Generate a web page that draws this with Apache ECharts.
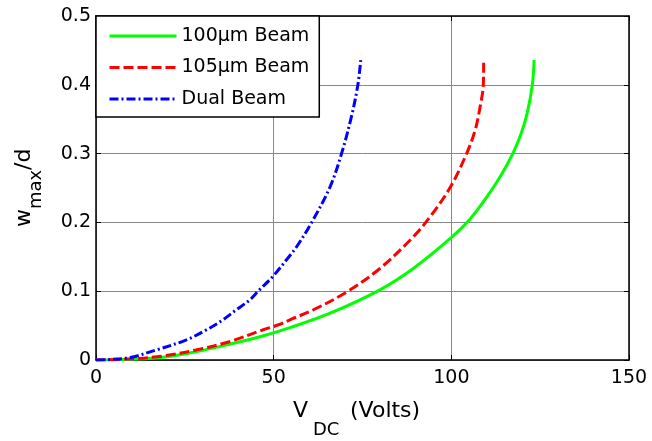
<!DOCTYPE html>
<html>
<head>
<meta charset="utf-8">
<script src="https://cdn.jsdelivr.net/npm/echarts@6/dist/echarts.min.js"></script>
<style>html,body{margin:0;padding:0;background:#fff}#c{width:652px;height:441px}</style>
</head>
<body>
<div id="c"></div>
<script>
// ---- data ----
const seriesNames = ['100\u03bcm Beam', '105\u03bcm Beam', 'Dual Beam'];
const xTicks = [0, 50, 100, 150];
const yTicks = [0, 0.1, 0.2, 0.3, 0.4, 0.5];

const beam100V = [0, 10, 18.8, 28.1, 37.5, 46.9, 54.6, 65.9, 79.9, 89.3, 99.8, 105.3, 110, 113.7, 117.3, 119.7, 121.4, 122.8, 123.3];
const beam100W = [0, 0.0012, 0.004, 0.012, 0.0228, 0.0349, 0.047, 0.068, 0.102, 0.133, 0.177, 0.205, 0.237, 0.266, 0.3, 0.33, 0.36, 0.4, 0.436];

const beam105V = [0, 10, 18.8, 28.1, 37.5, 46.9, 51.8, 55.3, 61.2, 70.6, 79.9, 89.3, 94, 99.7, 104.3, 106.7, 108.1, 109, 109.1];
const beam105W = [0, 0.0017, 0.0058, 0.0145, 0.0266, 0.0436, 0.052, 0.060, 0.073, 0.099, 0.133, 0.179, 0.208, 0.251, 0.3, 0.334, 0.368, 0.4, 0.436];

const dualV = [0, 5, 10, 16.9, 25.3, 31, 35.6, 39.4, 43.2, 46, 49.7, 53.5, 56.5, 60.7, 65.9, 69.1, 71.9, 73.7, 74.5];
const dualW = [0, 0.001, 0.004, 0.0145, 0.029, 0.0436, 0.058, 0.0727, 0.087, 0.102, 0.121, 0.145, 0.165, 0.2, 0.252, 0.3, 0.354, 0.4, 0.436];

// ---- chart ----
const FONT = 'DejaVu Sans';
const pairs = (xs, ys) => xs.map((v, i) => [v, ys[i]]);
const xMin = xTicks[0], xMax = xTicks[xTicks.length - 1], xInt = xTicks[1] - xTicks[0];
const yMin = yTicks[0], yMax = yTicks[yTicks.length - 1], yInt = 0.1;

const chart = echarts.init(document.getElementById('c'), null, {renderer: 'canvas'});
const lineBlack = {show: true, onZero: false, lineStyle: {color: '#000', width: 1.5}};
const tickIn = {show: true, inside: true, length: 5, lineStyle: {color: '#000', width: 1}};

chart.setOption({
  animation: false,
  backgroundColor: '#fff',
  grid: {left: 96, top: 16, right: 23, bottom: 81, containLabel: false},
  xAxis: [
    {type: 'value', min: xMin, max: xMax, interval: xInt, position: 'bottom',
     axisLine: lineBlack, axisTick: tickIn,
     axisLabel: {show: true, margin: 9, fontFamily: FONT, fontSize: 19, color: '#000'},
     splitLine: {show: true, lineStyle: {color: '#888', width: 1}}},
    {type: 'value', min: xMin, max: xMax, interval: xInt, position: 'top',
     axisLine: lineBlack, axisTick: tickIn, axisLabel: {show: false}, splitLine: {show: false}}
  ],
  yAxis: [
    {type: 'value', min: yMin, max: yMax, interval: yInt, position: 'left',
     axisLine: lineBlack, axisTick: tickIn,
     axisLabel: {show: true, margin: 5, fontFamily: FONT, fontSize: 19, color: '#000',
       formatter: v => (v === 0 ? '0' : v.toFixed(1))},
     splitLine: {show: true, lineStyle: {color: '#888', width: 1}}},
    {type: 'value', min: yMin, max: yMax, interval: yInt, position: 'right',
     axisLine: lineBlack, axisTick: tickIn, axisLabel: {show: false}, splitLine: {show: false}}
  ],
  legend: {
    show: true, orient: 'vertical', left: 96, top: 16,
    padding: [10.5, 10, 8.5, 12],
    itemWidth: 67, itemHeight: 19, itemGap: 12.5,
    backgroundColor: '#fff', borderColor: '#000', borderWidth: 1.5, borderRadius: 0,
    textStyle: {fontFamily: FONT, fontSize: 19, color: '#000', lineHeight: 19},
    itemStyle: {opacity: 0, color: 'transparent', borderWidth: 0},
    lineStyle: {width: 3},
    data: seriesNames
  },
  series: [
    {name: seriesNames[0], type: 'line', data: pairs(beam100V, beam100W), symbol: 'none', smooth: 0.35,
     lineStyle: {color: '#00ff00', width: 3, type: 'solid'}, itemStyle: {color: '#00ff00'}, z: 3},
    {name: seriesNames[1], type: 'line', data: pairs(beam105V, beam105W), symbol: 'none', smooth: 0.35,
     lineStyle: {color: '#ff0000', width: 3, type: [10, 4]}, itemStyle: {color: '#ff0000'}, z: 4},
    {name: seriesNames[2], type: 'line', data: pairs(dualV, dualW), symbol: 'none', smooth: 0.35,
     lineStyle: {color: '#0000ff', width: 3, type: [9, 3, 2, 3]}, itemStyle: {color: '#0000ff'}, z: 5}
  ],
  graphic: [
    {type: 'text', x: 293, y: 411, style: {text: 'V', font: '22px "DejaVu Sans"', fill: '#000', textAlign: 'left', textVerticalAlign: 'middle', verticalAlign: 'middle'}},
    {type: 'text', x: 313, y: 430, style: {text: 'DC', font: '18px "DejaVu Sans"', fill: '#000', textAlign: 'left', textVerticalAlign: 'middle', verticalAlign: 'middle'}},
    {type: 'text', x: 350, y: 411, style: {text: '(Volts)', font: '22px "DejaVu Sans"', fill: '#000', textAlign: 'left', textVerticalAlign: 'middle', verticalAlign: 'middle'}},
    {type: 'group', x: 0, y: 227, rotation: Math.PI / 2, children: [
      {type: 'text', x: 0, y: 24.4, style: {text: 'w', font: '22px "DejaVu Sans"', fill: '#000', textAlign: 'left', textVerticalAlign: 'middle', verticalAlign: 'middle'}},
      {type: 'text', x: 18, y: 36.8, style: {text: 'max', font: '18px "DejaVu Sans"', fill: '#000', textAlign: 'left', textVerticalAlign: 'middle', verticalAlign: 'middle'}},
      {type: 'text', x: 57, y: 24.4, style: {text: '/d', font: '22px "DejaVu Sans"', fill: '#000', textAlign: 'left', textVerticalAlign: 'middle', verticalAlign: 'middle'}}
    ]}
  ]
});
</script>
</body>
</html>
